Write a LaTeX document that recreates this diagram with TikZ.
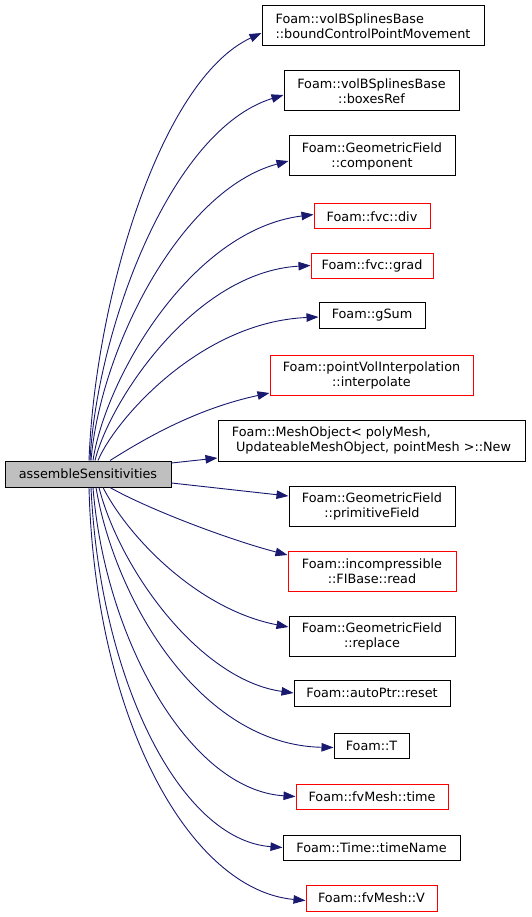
\documentclass[tikz,border=0pt]{standalone}
\usepackage{fontspec}
\setmainfont{DejaVu Sans}
\usetikzlibrary{arrows.meta}
\definecolor{edgeblue}{HTML}{191970}
\definecolor{rootgray}{HTML}{BFBFBF}
\begin{document}
\begin{tikzpicture}[x=1pt,y=-1pt,
  fn/.style={draw=black, line width=1pt, inner sep=0pt, fill=white,
    font=\fontsize{12.8}{15}\selectfont, align=center},
  fnred/.style={fn, draw=red},
  call/.style={draw=edgeblue, line width=0.9pt, -{Triangle[length=12pt,width=8.5pt]}}]
\fill[white] (0,0) rectangle (531,917);
\useasboundingbox (0,0) rectangle (531,917);

\node[fn, fill=rootgray, minimum width=166pt, minimum height=26pt] (root) at (88,474) {assembleSensitivities};

\node[fn, align=left, minimum width=222pt, minimum height=40pt] (n1) at (373,26) {Foam::volBSplinesBase\\::boundControlPointMovement};
\node[fn, minimum width=175pt, minimum height=40pt] (n2) at (371.5,91) {Foam::volBSplinesBase\\::boxesRef};
\node[fn, minimum width=166pt, minimum height=40pt] (n3) at (372,156) {Foam::GeometricField\\::component};
\node[fnred, minimum width=116pt, minimum height=25pt] (n4) at (372,216.5) {Foam::fvc::div};
\node[fnred, minimum width=122pt, minimum height=25pt] (n5) at (372,265.5) {Foam::fvc::grad};
\node[fn, minimum width=106pt, minimum height=26pt] (n6) at (372,315) {Foam::gSum};
\node[fnred, minimum width=203pt, minimum height=40pt] (n7) at (371.5,375) {Foam::pointVolInterpolation\\::interpolate};
\node[fn, align=left, minimum width=307pt, minimum height=41pt] (n8) at (371.5,440.5) {Foam::MeshObject< polyMesh,\\\hspace*{0.32em}UpdateableMeshObject, pointMesh >::New};
\node[fn, minimum width=166pt, minimum height=40pt] (n9) at (372,506) {Foam::GeometricField\\::primitiveField};
\node[fnred, minimum width=168pt, minimum height=40pt] (n10) at (372,571) {Foam::incompressible\\::FIBase::read};
\node[fn, minimum width=166pt, minimum height=40pt] (n11) at (372,636) {Foam::GeometricField\\::replace};
\node[fn, minimum width=156pt, minimum height=26pt] (n12) at (372,693) {Foam::autoPtr::reset};
\node[fn, minimum width=75pt, minimum height=25pt] (n13) at (371.5,745.5) {Foam::T};
\node[fnred, minimum width=152pt, minimum height=25pt] (n14) at (372,796.5) {Foam::fvMesh::time};
\node[fn, minimum width=177pt, minimum height=25pt] (n15) at (371.5,847.5) {Foam::Time::timeName};
\node[fnred, minimum width=131pt, minimum height=26pt] (n16) at (371.5,898) {Foam::fvMesh::V};

\draw[call] ([xshift=1pt]root.north) .. controls (95,300) and (160,80) .. ([yshift=-7pt]n1.west);
\draw[call] ([xshift=2pt]root.north) .. controls (97,330) and (170,130) .. ([yshift=-4pt]n2.west);
\draw[call] ([xshift=3pt]root.north) .. controls (100,350) and (180,190) .. ([yshift=-5pt]n3.west);
\draw[call] ([xshift=5pt]root.north) .. controls (105,380) and (190,230) .. ([yshift=2pt]n4.west);
\draw[call] ([xshift=7pt]root.north) .. controls (110,400) and (195,272) .. (n5.west);
\draw[call] ([xshift=10pt]root.north) .. controls (115,420) and (200,322) .. ([yshift=-2pt]n6.west);
\draw[call] ([xshift=22pt]root.north) .. controls (135,445) and (190,410) .. ([yshift=-18pt]n7.west);
\draw[call] ([yshift=11pt]root.east) -- ([yshift=-17.5pt]n8.west);
\draw[call] ([yshift=-9pt]root.east) -- ([yshift=10pt]n9.west);
\draw[call] ([xshift=22pt]root.south) .. controls (150,510) and (230,540) .. ([yshift=16pt]n10.west);
\draw[call] ([xshift=15pt]root.south) .. controls (130,540) and (200,610) .. ([yshift=9pt]n11.west);
\draw[call] ([xshift=11pt]root.south) .. controls (120,570) and (200,680) .. (n12.west);
\draw[call] ([xshift=8pt]root.south) .. controls (115,600) and (200,745) .. ([yshift=-2pt]n13.west);
\draw[call] ([xshift=5pt]root.south) .. controls (105,640) and (190,790) .. (n14.west);
\draw[call] ([xshift=3pt]root.south) .. controls (100,680) and (180,840) .. (n15.west);
\draw[call] ([xshift=1pt]root.south) .. controls (95,720) and (190,890) .. ([yshift=-2.5pt]n16.west);
\end{tikzpicture}
\end{document}
